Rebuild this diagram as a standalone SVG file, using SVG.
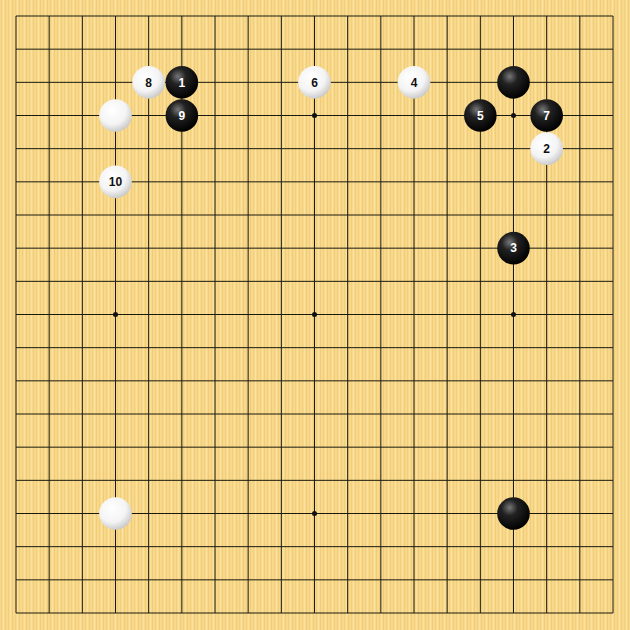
<svg xmlns="http://www.w3.org/2000/svg" width="630" height="630" viewBox="0 0 630 630">
<defs>
<pattern id="wood" width="7" height="10" patternUnits="userSpaceOnUse">
<rect width="7" height="10" fill="#f8d98b"/>
<rect x="1" width="1" height="10" fill="#f3cf7c"/>
<rect x="3" width="1" height="10" fill="#fbe2a0"/>
<rect x="5" width="1" height="10" fill="#f1cc78"/>
</pattern>
<radialGradient id="gb" cx="0.38" cy="0.32" r="0.7">
<stop offset="0" stop-color="#777"/>
<stop offset="0.35" stop-color="#222"/>
<stop offset="1" stop-color="#000"/>
</radialGradient>
<radialGradient id="gw" cx="0.4" cy="0.35" r="0.7">
<stop offset="0" stop-color="#fff"/>
<stop offset="0.6" stop-color="#f4f4f4"/>
<stop offset="1" stop-color="#c4c4c4"/>
</radialGradient>
<style>
.grid{stroke:#1a1a10;stroke-width:1;fill:none}
.b{fill:url(#gb)}
.w{fill:url(#gw)}
.lb{font-family:"Liberation Sans",Arial,sans-serif;font-weight:bold;font-size:12px;text-anchor:middle;fill:#fff}
.lw{font-family:"Liberation Sans",Arial,sans-serif;font-weight:bold;font-size:12px;text-anchor:middle;fill:#111}
</style>
</defs>
<rect width="630" height="630" fill="url(#wood)"/>
<g id="board">
<path class="grid" d="M16,16H613M16,49.17H613M16,82.33H613M16,115.5H613M16,148.67H613M16,181.83H613M16,215H613M16,248.17H613M16,281.33H613M16,314.5H613M16,347.67H613M16,380.83H613M16,414H613M16,447.17H613M16,480.33H613M16,513.5H613M16,546.67H613M16,579.83H613M16,613H613M16,16V613M49.17,16V613M82.33,16V613M115.5,16V613M148.67,16V613M181.83,16V613M215,16V613M248.17,16V613M281.33,16V613M314.5,16V613M347.67,16V613M380.83,16V613M414,16V613M447.17,16V613M480.33,16V613M513.5,16V613M546.67,16V613M579.83,16V613M613,16V613"/>
<g fill="#111">
<circle cx="115.5" cy="115.5" r="2.5"/><circle cx="314.5" cy="115.5" r="2.5"/><circle cx="513.5" cy="115.5" r="2.5"/>
<circle cx="115.5" cy="314.5" r="2.5"/><circle cx="314.5" cy="314.5" r="2.5"/><circle cx="513.5" cy="314.5" r="2.5"/>
<circle cx="115.5" cy="513.5" r="2.5"/><circle cx="314.5" cy="513.5" r="2.5"/><circle cx="513.5" cy="513.5" r="2.5"/>
</g>
</g>
<g id="stone-1"><circle class="b" cx="181.83" cy="82.33" r="16.3"/><text class="lb" x="181.83" y="86.5">1</text></g>
<g id="stone-2"><circle class="w" cx="546.67" cy="148.67" r="16.3"/><text class="lw" x="546.67" y="152.8">2</text></g>
<g id="stone-3"><circle class="b" cx="513.5" cy="248.17" r="16.3"/><text class="lb" x="513.5" y="252.3">3</text></g>
<g id="stone-4"><circle class="w" cx="414" cy="82.33" r="16.3"/><text class="lw" x="414" y="86.5">4</text></g>
<g id="stone-5"><circle class="b" cx="480.33" cy="115.5" r="16.3"/><text class="lb" x="480.33" y="119.6">5</text></g>
<g id="stone-6"><circle class="w" cx="314.5" cy="82.33" r="16.3"/><text class="lw" x="314.5" y="86.5">6</text></g>
<g id="stone-7"><circle class="b" cx="546.67" cy="115.5" r="16.3"/><text class="lb" x="546.67" y="119.6">7</text></g>
<g id="stone-8"><circle class="w" cx="148.67" cy="82.33" r="16.3"/><text class="lw" x="148.67" y="86.5">8</text></g>
<g id="stone-9"><circle class="b" cx="181.83" cy="115.5" r="16.3"/><text class="lb" x="181.83" y="119.6">9</text></g>
<g id="stone-10"><circle class="w" cx="115.5" cy="181.83" r="16.3"/><text class="lw" x="115.5" y="186">10</text></g>
<g id="stone-w-c4q3"><circle class="w" cx="115.5" cy="115.5" r="16.3"/></g>
<g id="stone-b-q17"><circle class="b" cx="513.5" cy="82.33" r="16.3"/></g>
<g id="stone-w-d4"><circle class="w" cx="115.5" cy="513.5" r="16.3"/></g>
<g id="stone-b-q4"><circle class="b" cx="513.5" cy="513.5" r="16.3"/></g>
</svg>
